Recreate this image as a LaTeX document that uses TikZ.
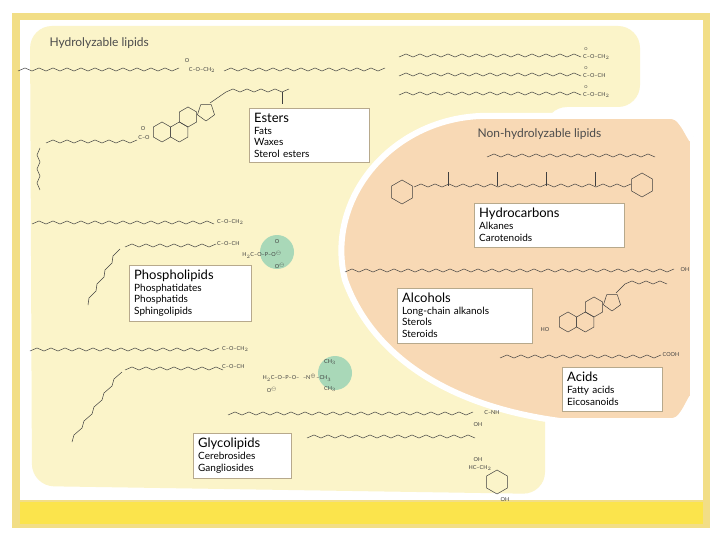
\documentclass[tikz,border=0pt]{standalone}
\usepackage{fontspec}
\setmainfont{Lato}
\definecolor{hydyellow}{HTML}{FBF4C9}
\definecolor{nonorange}{HTML}{F8D9B5}
\definecolor{bandyellow}{HTML}{FBE44C}
\definecolor{framey}{HTML}{F2DE86}
\definecolor{headgreen}{HTML}{A9D8B8}
\definecolor{boxline}{HTML}{B7A98C}

\tikzstyle{bond}=[line width=0.5pt, black!75]
\tikzstyle{group}=[inner sep=0pt, font=\fontsize{5.5}{5.5}\selectfont, black!75]
\tikzstyle{classbox}=[draw=boxline, fill=white, align=left, anchor=north west, inner sep=5pt]
\tikzstyle{region}=[font=\fontsize{12}{13}\selectfont, black!70, anchor=west]

% horizontal zig-zag chain: x, y, segments, step
\newcommand{\zigzag}[4]{\draw[bond] (#1,#2) \foreach \i in {1,...,#3}{ -- ++(#4,{3-6*mod(\i,2)}) };}
% slanted zig-zag tail: x, y, segments, dx, dy
\newcommand{\zigdown}[5]{\draw[bond] (#1,#2) \foreach \i in {1,...,#3}{ -- ++({#4+3-6*mod(\i,2)},#5) };}
% ring: x, y, radius, corners
\newcommand{\ring}[4]{\draw[bond] (#1,#2) +(90:#3) \foreach \k in {1,...,#4}{ -- +({90+360/#4*\k}:#3) };}
% class label box: name, width, corner, title, items
\newcommand{\classbox}[5]{\node[classbox, text width=#2] (#1) at (#3)
    {{\fontsize{13}{15}\selectfont #4}\\[1pt]{\fontsize{10}{11}\selectfont #5}};}

\begin{document}
\begin{tikzpicture}[x=1pt, y=-1pt]
        \useasboundingbox (0,0) rectangle (720,540);

        % frame
        \fill[framey] (12,13) rectangle (710,528);
        \fill[white] (20,20) rectangle (703,500);
        \fill[bandyellow] (20,502) rectangle (703,524);

        % regions
        \fill[hydyellow, rounded corners=22] (30,26) -- (640,26) -- (640,107) -- (545,107) -- (545,494) -- (32,486) -- cycle;
        \fill[nonorange, draw=white, line width=6pt] (480,116) -- (672,116) to[out=0,in=-90] (693,137) -- (693,400)
            to[out=90,in=0] (673,421) -- (560,421) .. controls (440,405) and (370,350) .. (345,280)
            .. controls (325,200) and (390,120) .. (480,116);
        \node[region] (hydro) at (46,43) {Hydrolyzable lipids};
        \node[region] (nonhydro) at (474,134) {Non-hydrolyzable lipids};

        % wax ester and triglyceride
        \zigzag{18}{71}{23}{7}
        \node[group] (wax) at (202,70) {C--O--CH$_2$};
        \node[group] at (187,61) {O};
        \zigzag{224}{71}{23}{7}
        \foreach \y/\g in {57/CH$_2$, 76/CH, 95/CH$_2$}{
            \zigzag{399}{\y}{26}{7}
            \node[group, anchor=west] at (583,\y) {C--O--\g};
            \node[group] at (586,{\y-8}) {\fontsize{4}{4}\selectfont O};
        }

        % sterol ester
        \zigzag{46}{143}{13}{7}
        \node[group] (ester) at (144,138) {C--O};
        \node[group] at (143,129) {O};
        \ring{162}{132}{10}{6}
        \ring{179.3}{132}{10}{6}
        \ring{188}{117}{10}{6}
        \ring{206}{112}{9}{5}
        \draw[bond] (210,103) -- (226,92);
        \zigzag{226}{92}{9}{7}
        \draw[bond] (282,92) -- (282,104);
        \zigdown{40}{148}{6}{0}{7}

        % phosphatidate
        \zigzag{32}{224}{26}{7}
        \zigzag{125}{247}{13}{7}
        \zigdown{120}{249}{8}{-4}{7}
        \node[group, anchor=west] at (217,222) {C--O--CH$_2$};
        \node[group, anchor=west] at (217,244) {C--O--CH};
        \node[fill=headgreen, circle, minimum size=34pt] (phosph) at (277,252) {};
        \node[group] at (262,255) {H$_2$C--O--P--O$^\ominus$};
        \node[group] at (280,266) {O$^\ominus$};
        \node[group] at (277,242) {O};

        % phosphatidylcholine
        \zigzag{30}{351}{27}{7}
        \zigzag{125}{370}{14}{7}
        \zigdown{122}{372}{10}{-5}{7}
        \node[group, anchor=west] at (222,349) {C--O--CH$_2$};
        \node[group, anchor=west] at (222,367) {C--O--CH};
        \node[fill=headgreen, circle, minimum size=34pt] (choline) at (335,373) {};
        \node[group] at (297,378) {H$_2$C--O--P--O--\,\,\,\,--N$^\oplus$--CH$_3$};
        \node[group] at (272,390) {O$^\ominus$};
        \node[group] at (330,362) {CH$_3$};
        \node[group] at (330,389) {CH$_3$};

        % cerebroside
        \zigzag{228}{415}{35}{7}
        \zigzag{307}{438}{24}{7}
        \node[group] at (492,413) {C--NH};
        \node[group] at (478,425) {OH};
        \node[group] at (478,460) {OH};
        \node[group] at (480,468) {HC--CH$_2$};
        \ring{497}{482}{12}{6}
        \node[group] at (505,500) {OH};

        % carotenoid and alkane
        \zigzag{487}{157}{24}{7}
        \ring{402}{192}{12}{6}
        \zigzag{414}{187}{31}{7}
        \ring{642}{185}{12}{6}
        \foreach \x in {448,497,546,595}{\draw[bond] (\x,186) -- (\x,172);}

        % long-chain alcohol and sterol
        \zigzag{345}{272}{47}{7}
        \node[group] (oh) at (685,270) {OH};
        \ring{568}{322}{10}{6}
        \ring{585.3}{322}{10}{6}
        \ring{594}{307}{10}{6}
        \ring{612}{302}{9}{5}
        \draw[bond] (616,293) -- (625,284);
        \zigzag{625}{284}{6}{7}
        \node[group] at (545,330) {HO};

        % fatty acid
        \zigzag{500}{358}{23}{7}
        \node[group] (cooh) at (671,355) {COOH};

        % class boxes
        \classbox{esters}{110pt}{249,108}{Esters}{Fats\\Waxes\\Sterol esters}
        \classbox{carbons}{140pt}{474,203}{Hydrocarbons}{Alkanes\\Carotenoids}
        \classbox{alcohols}{125pt}{397,288}{Alcohols}{Long-chain alkanols\\Sterols\\Steroids}
        \classbox{acids}{90pt}{562,367}{Acids}{Fatty acids\\Eicosanoids}
        \classbox{phospho}{112pt}{129,265}{Phospholipids}{Phosphatidates\\Phosphatids\\Sphingolipids}
        \classbox{glyco}{88pt}{193,433}{Glycolipids}{Cerebrosides\\Gangliosides}
    \end{tikzpicture}
\end{document}
